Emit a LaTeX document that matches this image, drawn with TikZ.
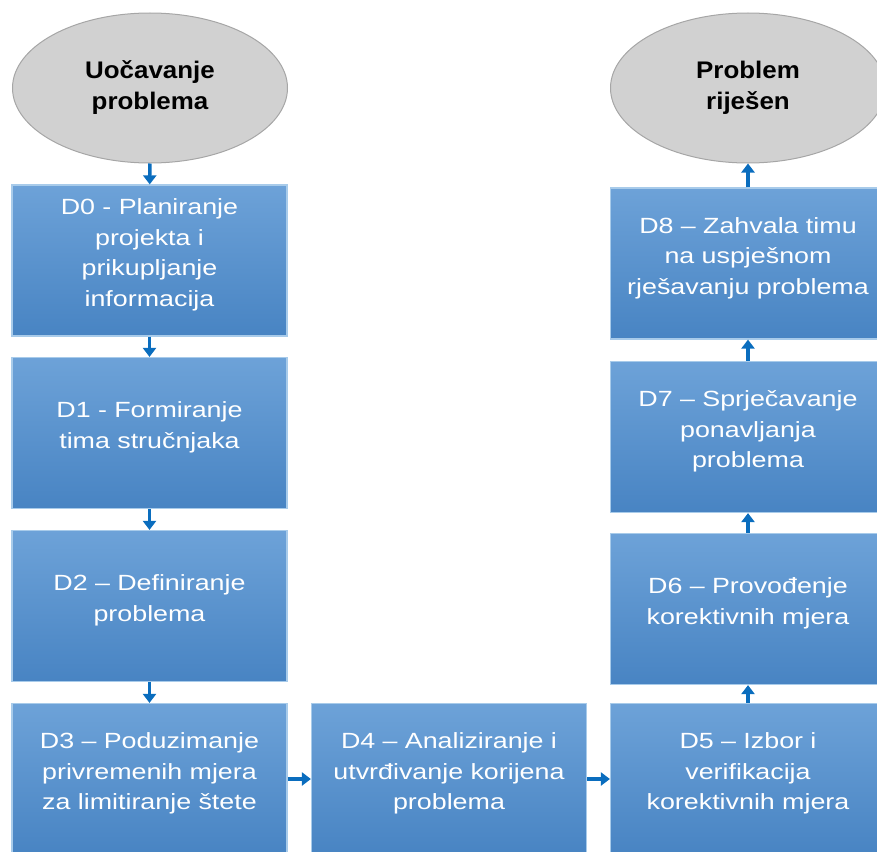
\documentclass[tikz,border=0pt]{standalone}
\usepackage{fontspec}
\setmainfont{Liberation Sans}
\newfontfamily\boxfont{Liberation Sans}[FakeStretch=1.22]
\newfontfamily\capfont{Liberation Sans}[FakeStretch=1.08]
\usetikzlibrary{shapes.geometric,arrows.meta}
\definecolor{boxtop}{HTML}{6DA2D8}
\definecolor{boxmid}{HTML}{5A98D4}
\definecolor{boxbot}{HTML}{4884C3}
\definecolor{boxline}{HTML}{A8CBEA}
\definecolor{arrowblue}{HTML}{0A6DBE}

\begin{document}
\begin{tikzpicture}[x=1pt,y=-1pt,
  stepbox/.style={rectangle, draw=boxline, line width=1.2pt,
    top color=boxtop, middle color=boxmid, bottom color=boxbot,
    minimum width=275pt, minimum height=151pt, inner sep=0pt,
    text width=270pt, align=center, text=white,
    font=\boxfont\fontsize{22}{30.5}\selectfont,
    execute at end node={\endgraf\vspace{11pt}}},
  endpoint/.style={ellipse, draw=black!35, line width=1pt, fill=black!18,
    minimum width=275pt, minimum height=150pt, inner sep=0pt,
    align=center, font=\capfont\bfseries\fontsize{24}{31}\selectfont},
  flow/.style={-{Triangle[width=13pt,length=9pt]}, arrowblue, line width=3.5pt}]
%\draw[help lines,step=50] (0,0) grid (877,851);
\useasboundingbox (0,0) rectangle (877,851);
\clip (0,0) rectangle (877,851);
\node[endpoint] (start) at (150,88) {Uočavanje\\problema};
\node[endpoint] (finish) at (748,88) {Problem\\riješen};
\node[stepbox] (d0) at (149.5,260.5) {D0 - Planiranje\\projekta i\\prikupljanje\\informacija};
\node[stepbox] (d1) at (149.5,433) {D1 - Formiranje\\tima stručnjaka};
\node[stepbox] (d2) at (149.5,606) {D2 – Definiranje\\problema};
\node[stepbox] (d3) at (149.5,779) {D3 – Poduzimanje\\privremenih mjera\\za limitiranje štete};
\node[stepbox] (d4) at (449,779) {D4 – Analiziranje i\\utvrđivanje korijena\\problema};
\node[stepbox] (d5) at (748,779) {D5 – Izbor i\\verifikacija\\korektivnih mjera};
\node[stepbox] (d6) at (748,609) {D6 – Provođenje\\korektivnih mjera};
\node[stepbox] (d7) at (748,437) {D7 – Sprječavanje\\ponavljanja\\problema};
\node[stepbox] (d8) at (748,263.5) {D8 – Zahvala timu\\na uspješnom\\rješavanju problema};
\draw[flow] (start) -- (d0);
\draw[flow] (d0) -- (d1);
\draw[flow] (d1) -- (d2);
\draw[flow] (d2) -- (d3);
\draw[flow] (d3) -- (d4);
\draw[flow] (d4) -- (d5);
\draw[flow] (d5) -- (d6);
\draw[flow] (d6) -- (d7);
\draw[flow] (d7) -- (d8);
\draw[flow] (d8) -- (finish);
\end{tikzpicture}
\end{document}
